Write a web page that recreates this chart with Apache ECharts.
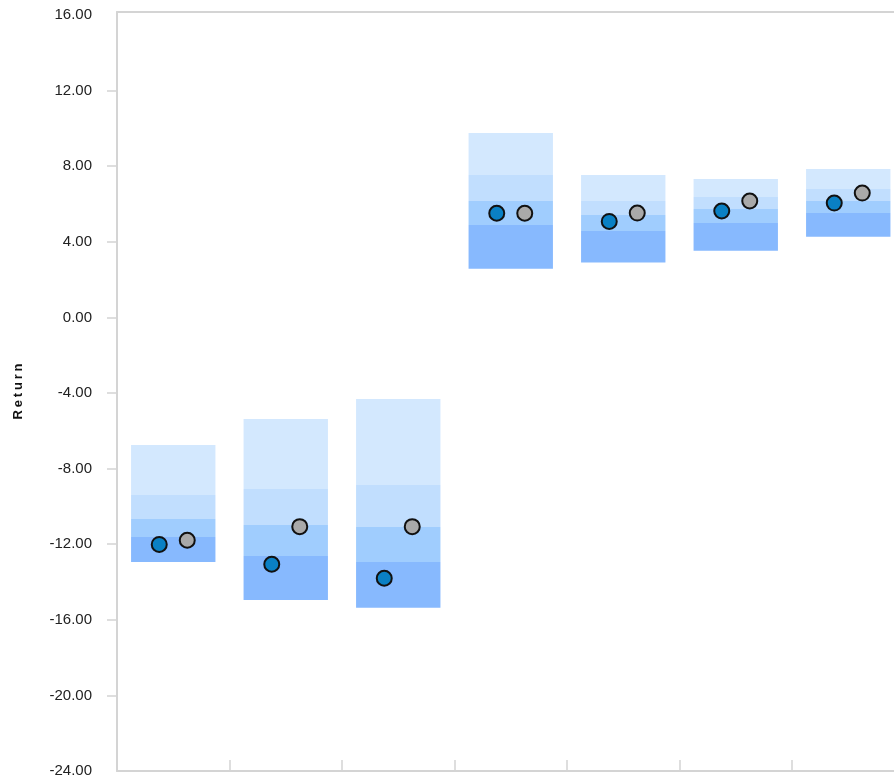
<!DOCTYPE html>
<html>
<head>
<meta charset="utf-8">
<script src="https://cdn.jsdelivr.net/npm/echarts@6/dist/echarts.min.js"></script>
<style>
html,body{margin:0;padding:0;overflow:hidden;background:#fff;}
#chart{width:910px;height:783px;}
</style>
</head>
<body>
<div id="chart"></div>
<script>
// categories (x labels are not shown in the reference)
const categories = ['P1', 'P2', 'P3', 'P4', 'P5', 'P6', 'P7'];
// band boundaries: bottom, q1, median, q3, top
const bandBottom = [-12.94, -14.95, -15.36, 2.58, 2.90, 3.53, 4.27];
const band1 = [-11.62, -12.62, -12.94, 4.89, 4.57, 4.99, 5.52];
const band2 = [-10.67, -10.98, -11.09, 6.16, 5.42, 5.74, 6.16];
const band3 = [-9.40, -9.08, -8.87, 7.53, 6.16, 6.37, 6.79];
const bandTop = [-6.75, -5.38, -4.32, 9.76, 7.53, 7.32, 7.85];
// dots
const blueValues = [-12.01, -13.06, -13.80, 5.51, 5.08, 5.63, 6.05];
const grayValues = [-11.79, -11.07, -11.07, 5.51, 5.52, 6.16, 6.58];
// y ticks
const yLabelValues = [-24, -20, -16, -12, -8, -4, 0, 4, 8, 12, 16];
const yTickValues = [-20, -16, -12, -8, -4, 0, 4, 8, 12];
const yAxisName = 'Return';

const bandColors = ['#87b9fe', '#a0cdfe', '#c1defe', '#d3e8fe'];
const bandData = categories.map((c, i) => [i, bandBottom[i], band1[i], band2[i], band3[i], bandTop[i]]);

const axisGray = '#d4d4d4';
const font = 'Liberation Sans, Arial, Helvetica, sans-serif';

const chart = echarts.init(document.getElementById('chart'));
chart.setOption({
  animation: false,
  grid: { left: 117, right: 5.5, top: 12, bottom: 12, containLabel: false },
  xAxis: [{
    type: 'category',
    data: categories,
    axisLine: { onZero: false, lineStyle: { color: axisGray, width: 2 } },
    axisTick: { show: true, inside: true, length: 11, interval: 0, lineStyle: { color: axisGray, width: 1.5 } },
    axisLabel: { show: false },
    splitLine: { show: false }
  }, {
    type: 'category',
    position: 'top',
    data: categories,
    axisLine: { onZero: false, lineStyle: { color: axisGray, width: 2 } },
    axisTick: { show: false },
    axisLabel: { show: false },
    splitLine: { show: false }
  }],
  yAxis: {
    type: 'value',
    min: -24, max: 16.16,
    name: yAxisName.split('').map(ch => '{l|' + ch + '}').join(''),
    nameLocation: 'middle',
    nameRotate: 90,
    nameGap: 92,
    nameTextStyle: {
      rich: { l: { fontFamily: font, fontSize: 13, fontWeight: 'bold', color: '#111', padding: [0, 1.4, 0, 1.4] } }
    },
    axisLine: { show: true, lineStyle: { color: axisGray, width: 2 } },
    axisTick: { show: true, length: 10, customValues: yTickValues, lineStyle: { color: axisGray, width: 1.5 } },
    axisLabel: { margin: 25, customValues: yLabelValues, fontFamily: font, fontSize: 15, color: '#222', formatter: v => Number(v).toFixed(2) },
    splitLine: { show: false }
  },
  series: [
    {
      type: 'custom',
      data: bandData,
      encode: { x: 0, y: [1, 2, 3, 4, 5] },
      z: 1,
      renderItem: function (params, api) {
        const idx = api.value(0);
        const cx = api.coord([idx, 0])[0];
        const w = api.size([1, 0])[0] * 0.75;
        const children = [];
        for (let k = 0; k < 4; k++) {
          const y0 = api.coord([idx, api.value(k + 1)])[1];
          const y1 = api.coord([idx, api.value(k + 2)])[1];
          children.push({
            type: 'rect',
            shape: { x: cx - w / 2, y: y1, width: w, height: y0 - y1 },
            style: { fill: bandColors[k] }
          });
        }
        return { type: 'group', children: children };
      }
    },
    {
      type: 'scatter',
      data: blueValues,
      symbol: 'circle',
      symbolSize: 15,
      symbolOffset: [-14, 0],
      z: 5,
      itemStyle: { color: '#0a80c4', borderColor: '#111', borderWidth: 2, opacity: 1 }
    },
    {
      type: 'scatter',
      data: grayValues,
      symbol: 'circle',
      symbolSize: 15,
      symbolOffset: [14, 0],
      z: 5,
      itemStyle: { color: '#a9a9a9', borderColor: '#111', borderWidth: 2, opacity: 1 }
    }
  ]
});
</script>
</body>
</html>
